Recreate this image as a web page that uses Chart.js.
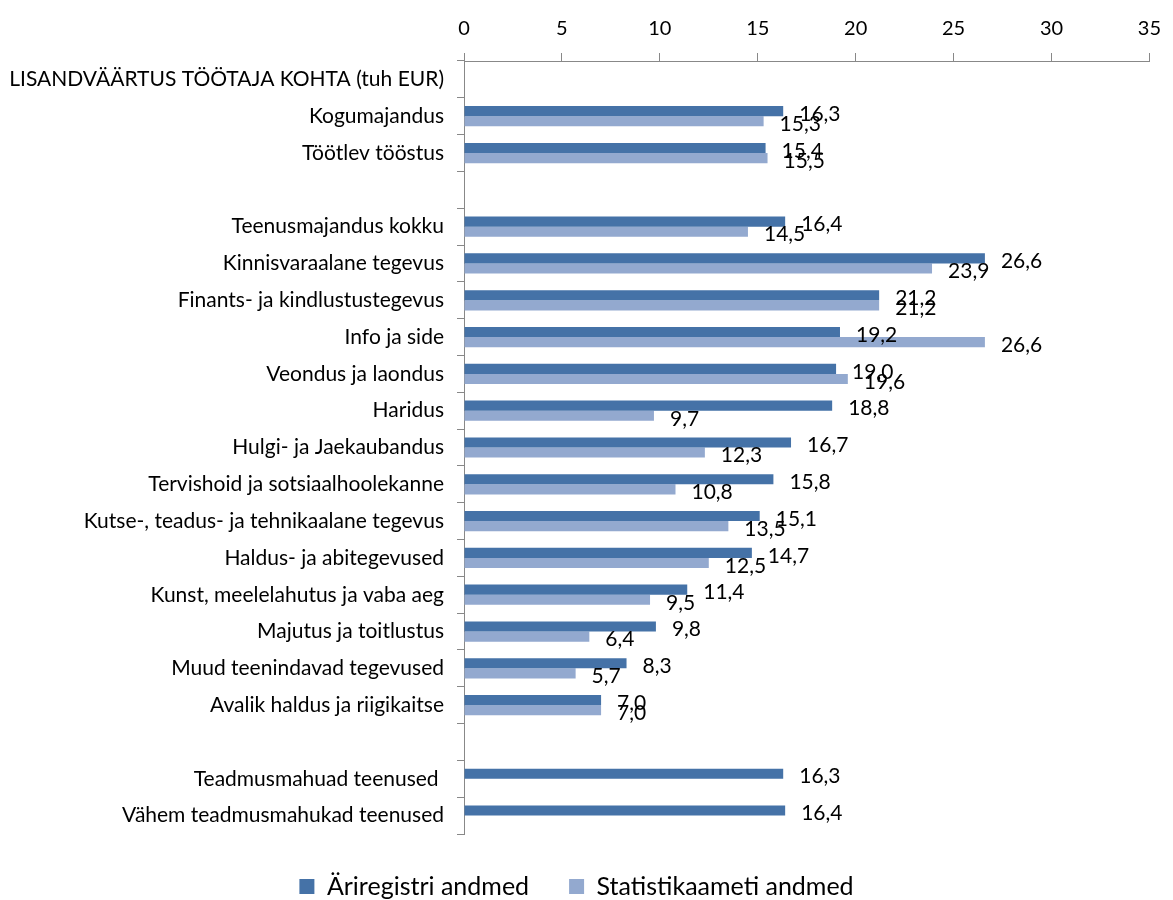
<!DOCTYPE html>
<html>
<head>
<meta charset="utf-8">
<script src="https://cdn.jsdelivr.net/npm/chart.js@4"></script>
<style>
  html, body { margin: 0; padding: 0; background: #fff; }
  #wrap { width: 1173px; height: 900px; }
</style>
</head>
<body>
<div id="wrap"><canvas id="chart" width="1173" height="900"></canvas></div>
<script>
const categories = [
    'LISANDVÄÄRTUS TÖÖTAJA KOHTA (tuh EUR)',
    'Kogumajandus',
    'Töötlev tööstus',
    '',
    'Teenusmajandus kokku',
    'Kinnisvaraalane tegevus',
    'Finants- ja kindlustustegevus',
    'Info ja side',
    'Veondus ja laondus',
    'Haridus',
    'Hulgi- ja Jaekaubandus',
    'Tervishoid ja sotsiaalhoolekanne',
    'Kutse-, teadus- ja tehnikaalane tegevus',
    'Haldus- ja abitegevused',
    'Kunst, meelelahutus ja vaba aeg',
    'Majutus ja toitlustus',
    'Muud teenindavad tegevused',
    'Avalik haldus ja riigikaitse',
    '',
    'Teadmusmahuad teenused ',
    'Vähem teadmusmahukad teenused'
];
const ariregister = [null, 16.3, 15.4, null, 16.4, 26.6, 21.2, 19.2, 19.0, 18.8, 16.7, 15.8, 15.1, 14.7, 11.4, 9.8, 8.3, 7.0, null, 16.3, 16.4];
const statistika  = [null, 15.3, 15.5, null, 14.5, 23.9, 21.2, 26.6, 19.6, 9.7, 12.3, 10.8, 13.5, 12.5, 9.5, 6.4, 5.7, 7.0, null, null, null];
const seriesNames = ['Äriregistri andmed', 'Statistikaameti andmed'];
const xTicks = [0, 5, 10, 15, 20, 25, 30, 35];

const FONT = 'Lato, "Noto Sans", sans-serif';

// value labels just past the end of each bar, Excel style
const barLabels = {
    id: 'barLabels',
    afterDatasetsDraw(chart) {
        const ctx = chart.ctx;
        ctx.save();
        ctx.font = '21px ' + FONT;
        ctx.fillStyle = '#000';
        ctx.textBaseline = 'middle';
        ctx.textAlign = 'left';
        chart.data.datasets.forEach((ds, i) => {
            const meta = chart.getDatasetMeta(i);
            meta.data.forEach((bar, j) => {
                const v = ds.data[j];
                if (v === null || v === undefined) return;
                ctx.fillText(v.toFixed(1).replace('.', ','), bar.x + 16, bar.y + 3);
            });
        });
        ctx.restore();
    }
};

// fixed legend band so the plot ends where the original does
const legendBand = {
    id: 'legendBand',
    afterInit(chart) {
        const lg = chart.legend;
        const fit = lg.fit.bind(lg);
        lg.fit = function () { fit(); this.height = 66; };
    }
};

new Chart(document.getElementById('chart'), {
    type: 'bar',
    data: {
        labels: categories,
        datasets: [
            { label: seriesNames[0], data: ariregister, backgroundColor: '#4572A7', borderWidth: 0 },
            { label: seriesNames[1], data: statistika, backgroundColor: '#93A9CF', borderWidth: 0 }
        ]
    },
    options: {
        indexAxis: 'y',
        responsive: false,
        animation: false,
        categoryPercentage: 0.55,
        barPercentage: 1.0,
        layout: { padding: { left: 0, right: 20, top: 0, bottom: 0 } },
        scales: {
            x: {
                position: 'top',
                min: 0,
                max: 35,
                afterBuildTicks: axis => { axis.ticks = xTicks.map(v => ({ value: v })); },
                afterFit: axis => { axis.height = 61; },
                grid: { drawOnChartArea: false, drawTicks: true, tickLength: 8, color: '#888' },
                border: { display: true, color: '#888' },
                ticks: { color: '#000', font: { family: FONT, size: 20 }, padding: 12 }
            },
            y: {
                afterFit: axis => { axis.width = 464; },
                grid: { offset: true, drawOnChartArea: false, drawTicks: true, tickLength: 7, color: '#888' },
                border: { display: true, color: '#888' },
                ticks: { color: '#000', font: { family: FONT, size: 21 }, padding: 13, autoSkip: false }
            }
        },
        plugins: {
            legend: {
                position: 'bottom',
                labels: { color: '#000', font: { family: FONT, size: 25 }, boxWidth: 15, boxHeight: 15, padding: 40 }
            },
            tooltip: { enabled: false }
        }
    },
    plugins: [barLabels, legendBand]
});
</script>
</body>
</html>
